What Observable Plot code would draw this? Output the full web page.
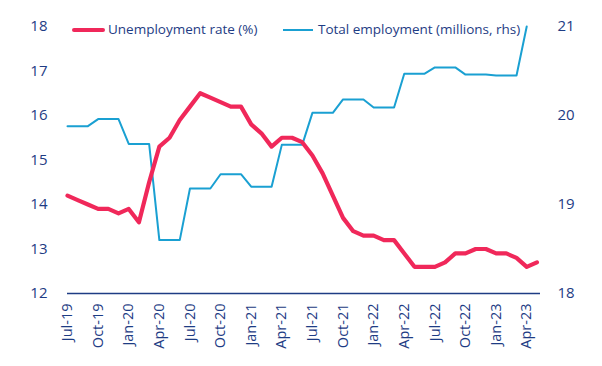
<!DOCTYPE html>
<html><head><meta charset="utf-8">
<script src="https://cdn.jsdelivr.net/npm/d3@7"></script>
<script src="https://cdn.jsdelivr.net/npm/@observablehq/plot@0.6"></script>
<style>
body{margin:0;background:#fff;font-family:"Open Sans",sans-serif;}
#wrap{position:relative;width:602px;height:366px;}
.sw{position:absolute;}
.lt{position:absolute;font-size:13.5px;line-height:18px;color:#1e3c84;white-space:nowrap;}
</style></head><body>
<div id="wrap"><div id="chart"></div>
<div class="sw" style="left:72px;top:27.5px;width:33px;height:4.5px;background:#f0285a;border-radius:2px"></div>
<div class="lt" id="l1" style="left:108px;top:20px"></div>
<div class="sw" style="left:283px;top:28.5px;width:30px;height:2px;background:#1aa0d2"></div>
<div class="lt" id="l2" style="left:318px;top:20px"></div>
</div>
<script>
const months = ["Jul-19","Aug-19","Sep-19","Oct-19","Nov-19","Dec-19",
"Jan-20","Feb-20","Mar-20","Apr-20","May-20","Jun-20","Jul-20","Aug-20","Sep-20","Oct-20","Nov-20","Dec-20",
"Jan-21","Feb-21","Mar-21","Apr-21","May-21","Jun-21","Jul-21","Aug-21","Sep-21","Oct-21","Nov-21","Dec-21",
"Jan-22","Feb-22","Mar-22","Apr-22","May-22","Jun-22","Jul-22","Aug-22","Sep-22","Oct-22","Nov-22","Dec-22",
"Jan-23","Feb-23","Mar-23","Apr-23","May-23"];
const unemployment = [14.2,14.1,14.0,13.9,13.9,13.8,
13.9,13.6,14.5,15.3,15.5,15.9,16.2,16.5,16.4,16.3,16.2,16.2,
15.8,15.6,15.3,15.5,15.5,15.4,15.1,14.7,14.2,13.7,13.4,13.3,
13.3,13.2,13.2,12.9,12.6,12.6,12.6,12.7,12.9,12.9,13.0,13.0,
12.9,12.9,12.8,12.6,12.7];
const employment = [19.88,19.88,19.88,19.96,19.96,19.96,
19.68,19.68,19.68,18.60,18.60,18.60,19.18,19.18,19.18,19.34,19.34,19.34,
19.20,19.20,19.20,19.67,19.67,19.67,20.03,20.03,20.03,20.18,20.18,20.18,
20.09,20.09,20.09,20.47,20.47,20.47,20.54,20.54,20.54,20.46,20.46,20.46,
20.45,20.45,20.45,21.00];
const leftTicks = [12,13,14,15,16,17,18];
const rightTicks = [18,19,20,21];
const seriesNames = ["Unemployment rate (%)","Total employment (millions, rhs)"];

document.getElementById("l1").textContent = seriesNames[0];
document.getElementById("l2").textContent = seriesNames[1];

const navy = "#1e3c84", red = "#f0285a", blue = "#1aa0d2";
// map right axis (18..21) onto left scale (12..18)
const toLeft = e => 12 + (e - 18) * 2;
const fromLeft = v => String(Math.round(18 + (v - 12) / 2));

const uData = unemployment.map((u, i) => ({i, v: u}));
const eData = employment.map((e, i) => ({i, v: toLeft(e)}));
const tickIdx = months.map((m, i) => i).filter(i => i % 3 === 0);

const chart = Plot.plot({
  width: 602, height: 366,
  marginLeft: 67, marginRight: 62, marginTop: 26, marginBottom: 73,
  x: {domain: [0, 46.35], axis: null},
  y: {domain: [12, 18], axis: null},
  style: {fontFamily: "'Open Sans', sans-serif", color: navy, background: "#fff"},
  marks: [
    Plot.axisY({anchor: "left", ticks: leftTicks, tickFormat: d => String(d), tickSize: 0, tickPadding: 20, label: null, fontSize: 15, fill: navy}),
    Plot.axisY({anchor: "right", ticks: rightTicks.map(toLeft), tickFormat: fromLeft, tickSize: 0, tickPadding: 17, label: null, fontSize: 15, fill: navy}),
    Plot.axisX({ticks: tickIdx, tickFormat: i => months[i], tickRotate: -90, tickSize: 0, tickPadding: 10, label: null, fontSize: 14.5, fill: navy}),
    Plot.ruleY([12], {stroke: navy, strokeWidth: 1.5}),
    Plot.line(eData, {x: "i", y: "v", stroke: blue, strokeWidth: 2}),
    Plot.line(uData, {x: "i", y: "v", stroke: red, strokeWidth: 4.2, strokeLinejoin: "round"})
  ]
});
document.getElementById("chart").append(chart);
</script>
</body></html>
